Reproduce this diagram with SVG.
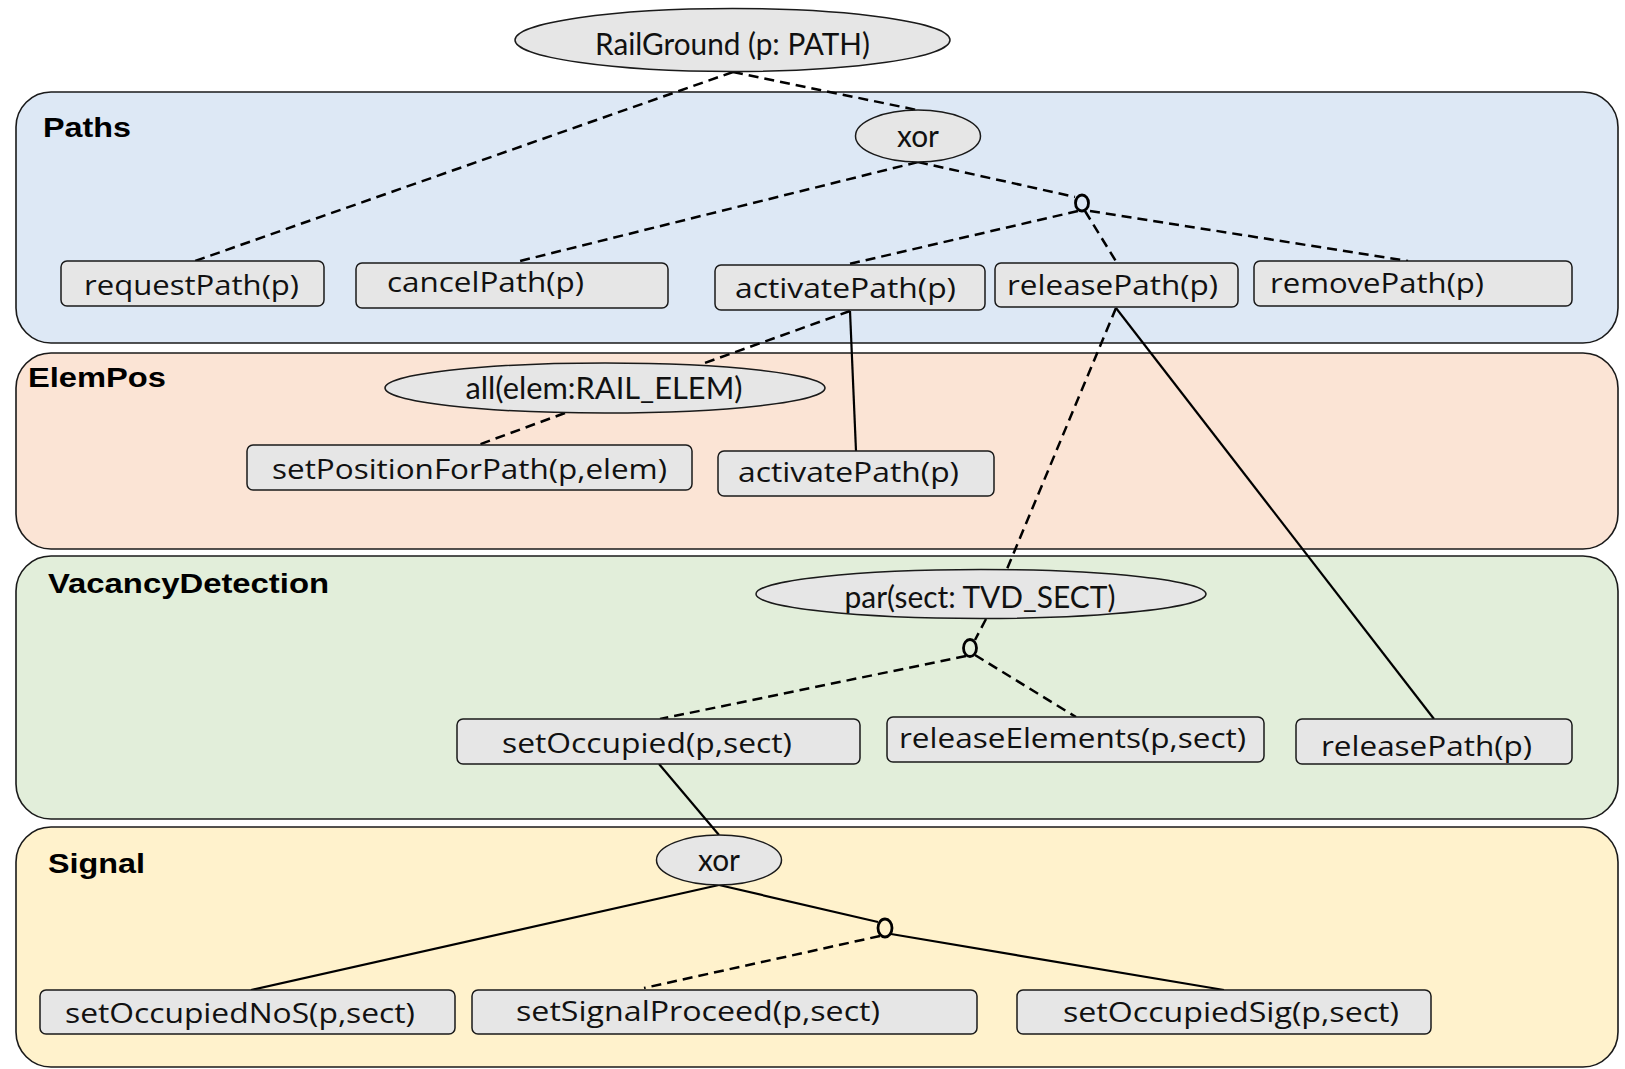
<svg xmlns="http://www.w3.org/2000/svg" width="1625" height="1069" viewBox="0 0 1625 1069">
<style>
.panel{stroke:#1a1a1a;stroke-width:1.6}
.plabel{font-family:"Liberation Sans",Arial,sans-serif;font-weight:bold;font-size:28px;fill:#000}
.box{fill:#e6e6e6;stroke:#1a1a1a;stroke-width:1.5}
.btxt{font-family:"Open Sans","Noto Sans",sans-serif;font-size:28px;fill:#111}
.ell{fill:#e6e6e6;stroke:#1a1a1a;stroke-width:1.5}
.etxt{font-family:Lato,"Liberation Sans",sans-serif;font-size:30px;fill:#111;text-anchor:middle}
.dash{stroke:#000;stroke-width:2.5;fill:none;stroke-dasharray:10 6}
.solid{stroke:#000;stroke-width:2.2;fill:none}
.junc{fill:none;stroke:#000;stroke-width:2.8}
</style>
<rect width="1625" height="1069" fill="#ffffff"/>
<g id="panels">
<g id="panel-paths"><rect class="panel" x="16" y="92" width="1602" height="251" rx="35" fill="#dde8f5"/><text class="plabel" x="43" y="137" textLength="88" lengthAdjust="spacingAndGlyphs">Paths</text></g>
<g id="panel-elempos"><rect class="panel" x="16" y="353" width="1602" height="196" rx="35" fill="#fbe4d5"/><text class="plabel" x="28" y="387" textLength="138" lengthAdjust="spacingAndGlyphs">ElemPos</text></g>
<g id="panel-vacancy"><rect class="panel" x="16" y="556" width="1602" height="263" rx="35" fill="#e2eeda"/><text class="plabel" x="48" y="593" textLength="281" lengthAdjust="spacingAndGlyphs">VacancyDetection</text></g>
<g id="panel-signal"><rect class="panel" x="16" y="827" width="1602" height="240" rx="35" fill="#fff2cc"/><text class="plabel" x="48" y="873" textLength="97" lengthAdjust="spacingAndGlyphs">Signal</text></g>
</g>
<g id="connectors">
<line class="dash" x1="733" y1="72" x2="195" y2="261"/>
<line class="dash" x1="733" y1="72" x2="917" y2="110"/>
<line class="dash" x1="918" y1="162" x2="516" y2="262"/>
<line class="dash" x1="918" y1="162" x2="1075" y2="197"/>
<line class="dash" x1="1078" y1="211" x2="845" y2="265"/>
<line class="dash" x1="1085" y1="211" x2="1117" y2="263"/>
<line class="dash" x1="1090" y1="211" x2="1408" y2="261"/>
<line class="dash" x1="850" y1="311" x2="702" y2="364"/>
<line class="solid" x1="850" y1="311" x2="856" y2="451"/>
<line class="dash" x1="1116" y1="308" x2="1007" y2="569"/>
<line class="solid" x1="1116" y1="308" x2="1434" y2="719"/>
<line class="dash" x1="565" y1="413" x2="478" y2="445"/>
<line class="dash" x1="986" y1="619" x2="975" y2="640"/>
<line class="dash" x1="966" y1="656" x2="660" y2="719"/>
<line class="dash" x1="975" y1="655" x2="1076" y2="717"/>
<line class="solid" x1="659" y1="764" x2="719" y2="835"/>
<line class="solid" x1="719" y1="885" x2="878" y2="922"/>
<line class="solid" x1="719" y1="885" x2="251" y2="990"/>
<line class="dash" x1="880" y1="936" x2="644" y2="988"/>
<line class="solid" x1="891" y1="934" x2="1224" y2="990"/>
<ellipse class="junc" cx="1082" cy="203" rx="6.5" ry="8"/>
<ellipse class="junc" cx="970" cy="648" rx="6.5" ry="8.5"/>
<ellipse class="junc" cx="885" cy="928" rx="7" ry="9"/>
</g>
<g id="railground"><ellipse class="ell" cx="732.5" cy="40" rx="217.5" ry="31.5"/><text class="etxt" x="732.5" y="55" textLength="275" lengthAdjust="spacingAndGlyphs">RailGround (p: PATH)</text></g>
<g id="xor-paths"><ellipse class="ell" cx="918" cy="136" rx="62.5" ry="26"/><text class="etxt" x="918" y="147" textLength="42" lengthAdjust="spacingAndGlyphs">xor</text></g>
<g id="requestPath"><rect class="box" x="61" y="261" width="263" height="45" rx="6"/><text class="btxt" x="84" y="295" textLength="215" lengthAdjust="spacingAndGlyphs">requestPath(p)</text></g>
<g id="cancelPath"><rect class="box" x="356" y="263" width="312" height="45" rx="6"/><text class="btxt" x="387" y="292" textLength="197" lengthAdjust="spacingAndGlyphs">cancelPath(p)</text></g>
<g id="activatePath"><rect class="box" x="715" y="265" width="270" height="45" rx="6"/><text class="btxt" x="735" y="298" textLength="221" lengthAdjust="spacingAndGlyphs">activatePath(p)</text></g>
<g id="releasePath"><rect class="box" x="995" y="263" width="243" height="44" rx="6"/><text class="btxt" x="1007" y="295" textLength="211" lengthAdjust="spacingAndGlyphs">releasePath(p)</text></g>
<g id="removePath"><rect class="box" x="1254" y="261" width="318" height="45" rx="6"/><text class="btxt" x="1270" y="293" textLength="214" lengthAdjust="spacingAndGlyphs">removePath(p)</text></g>
<g id="all-elem"><ellipse class="ell" cx="605" cy="388" rx="220" ry="25"/><text class="etxt" x="604" y="399" textLength="277" lengthAdjust="spacingAndGlyphs">all(elem:RAIL_ELEM)</text></g>
<g id="setPositionForPath"><rect class="box" x="247" y="445" width="445" height="45" rx="6"/><text class="btxt" x="272" y="479" textLength="395" lengthAdjust="spacingAndGlyphs">setPositionForPath(p,elem)</text></g>
<g id="activatePath-elempos"><rect class="box" x="718" y="451" width="276" height="45" rx="6"/><text class="btxt" x="738" y="482" textLength="221" lengthAdjust="spacingAndGlyphs">activatePath(p)</text></g>
<g id="par-sect"><ellipse class="ell" cx="981" cy="594" rx="225" ry="24.5"/><text class="etxt" x="980" y="608" textLength="271" lengthAdjust="spacingAndGlyphs">par(sect: TVD_SECT)</text></g>
<g id="setOccupied"><rect class="box" x="457" y="719" width="403" height="45" rx="6"/><text class="btxt" x="502" y="753" textLength="290" lengthAdjust="spacingAndGlyphs">setOccupied(p,sect)</text></g>
<g id="releaseElements"><rect class="box" x="887" y="717" width="377" height="45" rx="6"/><text class="btxt" x="899" y="748" textLength="347" lengthAdjust="spacingAndGlyphs">releaseElements(p,sect)</text></g>
<g id="releasePath-vd"><rect class="box" x="1296" y="719" width="276" height="45" rx="6"/><text class="btxt" x="1321" y="756" textLength="211" lengthAdjust="spacingAndGlyphs">releasePath(p)</text></g>
<g id="xor-signal"><ellipse class="ell" cx="719" cy="860" rx="62.5" ry="25"/><text class="etxt" x="719" y="871" textLength="42" lengthAdjust="spacingAndGlyphs">xor</text></g>
<g id="setOccupiedNoS"><rect class="box" x="40" y="990" width="415" height="44" rx="6"/><text class="btxt" x="65" y="1023" textLength="350" lengthAdjust="spacingAndGlyphs">setOccupiedNoS(p,sect)</text></g>
<g id="setSignalProceed"><rect class="box" x="472" y="990" width="505" height="44" rx="6"/><text class="btxt" x="516" y="1021" textLength="364" lengthAdjust="spacingAndGlyphs">setSignalProceed(p,sect)</text></g>
<g id="setOccupiedSig"><rect class="box" x="1017" y="990" width="414" height="44" rx="6"/><text class="btxt" x="1063" y="1022" textLength="336" lengthAdjust="spacingAndGlyphs">setOccupiedSig(p,sect)</text></g>
</svg>
